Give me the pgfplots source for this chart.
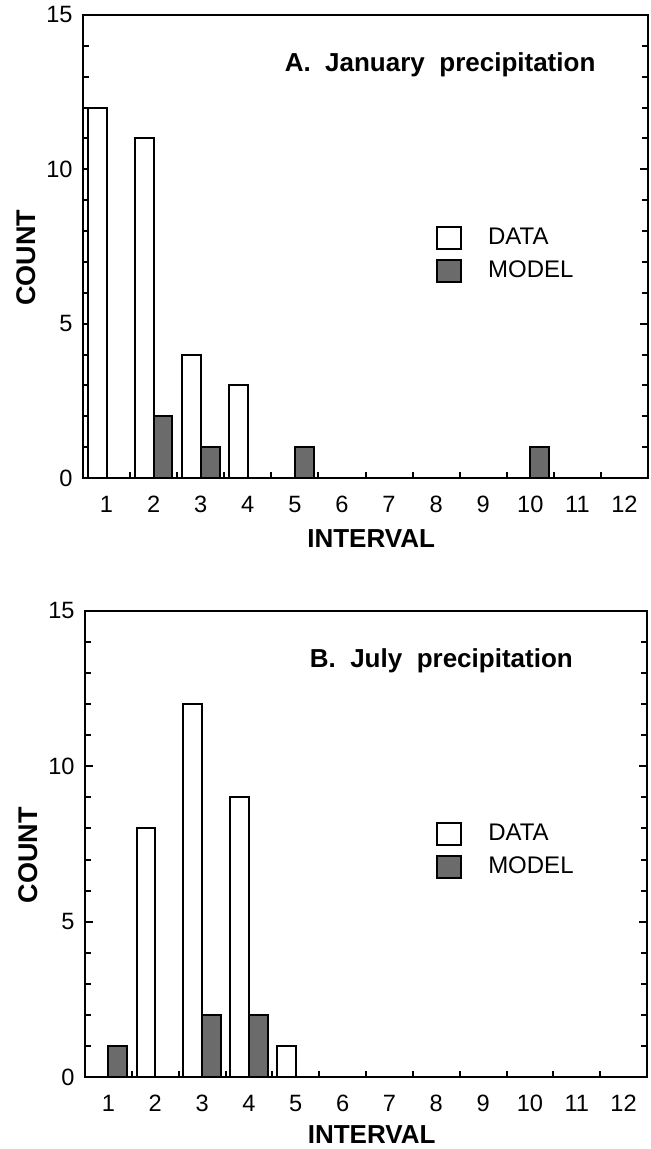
\documentclass[border=0pt]{standalone}
\usepackage{fontspec}
\setmainfont{Liberation Sans}
\usepackage{pgfplots}
\pgfplotsset{compat=1.18}

\definecolor{modelfill}{gray}{0.42}

% Counts per interval, 1..12
\pgfplotstableread{
x data model
1 12 0
2 11 2
3 4 1
4 3 0
5 0 1
6 0 0
7 0 0
8 0 0
9 0 0
10 0 1
11 0 0
12 0 0
}\january
\pgfplotstableread{
x data model
1 0 1
2 8 0
3 12 2
4 9 2
5 1 0
6 0 0
7 0 0
8 0 0
9 0 0
10 0 0
11 0 0
12 0 0
}\july

\pgfplotsset{
  histpanel/.style={
    scale only axis,
    axis line style={line width=1.2pt},
    xmin=0.5, xmax=12.5, ymin=0, ymax=15,
    xtick={1,...,12},
    minor xtick={1.5,2.5,...,11.5},
    major x tick style={draw=none},
    minor x tick style={line width=1pt},
    ytick={0,5,10,15},
    minor y tick num=4,
    every tick/.style={line width=1pt, black},
    tick align=inside,
    xtick pos=bottom,
    major tick length=4pt,
    minor tick length=3pt,
    /pgf/number format/assume math mode=true,
    tick label style={font=\fontsize{11.8}{13}\selectfont},
    xticklabel style={yshift=-5.7pt},
    yticklabel style={xshift=-1.7pt},
    xlabel={\bfseries INTERVAL},
    ylabel={\bfseries COUNT},
    every axis x label/.style={at={(axis description cs:0.51,-0.130)}, anchor=center, font=\fontsize{13}{15}\selectfont},
    every axis y label/.style={at={(axis description cs:-0.101,0.476)}, anchor=center, rotate=90, font=\fontsize{13.5}{15}\selectfont},
    legend image code/.code={\draw[#1] (0pt,-5.5pt) rectangle (12pt,5.5pt);},
    legend cell align=left,
    legend style={draw=none, fill=none, inner sep=0pt, outer sep=0pt,
      row sep=4.5pt,
      /tikz/every odd column/.append style={column sep=13pt},
      nodes={inner sep=0pt, font=\fontsize{12}{13}\selectfont}},
  },
  databar/.style={ybar, bar width=0.4, bar shift=-0.2, fill=white, draw=black, line width=1pt},
  modelbar/.style={ybar, bar width=0.4, bar shift=0.2, fill=modelfill, draw=black, line width=1pt},
}

\begin{document}
\begin{tikzpicture}
\useasboundingbox (0,0) rectangle (325pt,574.5pt);

% Panel A
\begin{axis}[histpanel,
  at={(41.5pt,335.5pt)}, anchor=south west,
  width=282.5pt, height=231.5pt,
  legend style={at={(rel axis cs:0.625,0.544)}, anchor=north west}]
  \addplot[databar] table[x=x, y=data] {\january};
  \addplot[modelbar] table[x=x, y=model] {\january};
  \legend{DATA, MODEL}
  \node[anchor=base, font=\fontsize{13}{15}\selectfont\bfseries]
    at (rel axis cs:0.632,0.877) {A.\ \ January\ \ precipitation};
\end{axis}

% Panel B
\begin{axis}[histpanel,
  at={(42.5pt,36pt)}, anchor=south west,
  width=281pt, height=233pt,
  every axis x label/.append style={at={(axis description cs:0.51,-0.124)}},
  legend style={at={(rel axis cs:0.625,0.547)}, anchor=north west}]
  \addplot[databar] table[x=x, y=data] {\july};
  \addplot[modelbar] table[x=x, y=model] {\july};
  \legend{DATA, MODEL}
  \node[anchor=base, font=\fontsize{13}{15}\selectfont\bfseries]
    at (rel axis cs:0.634,0.878) {B.\ \ July\ \ precipitation};
\end{axis}
\end{tikzpicture}
\end{document}
